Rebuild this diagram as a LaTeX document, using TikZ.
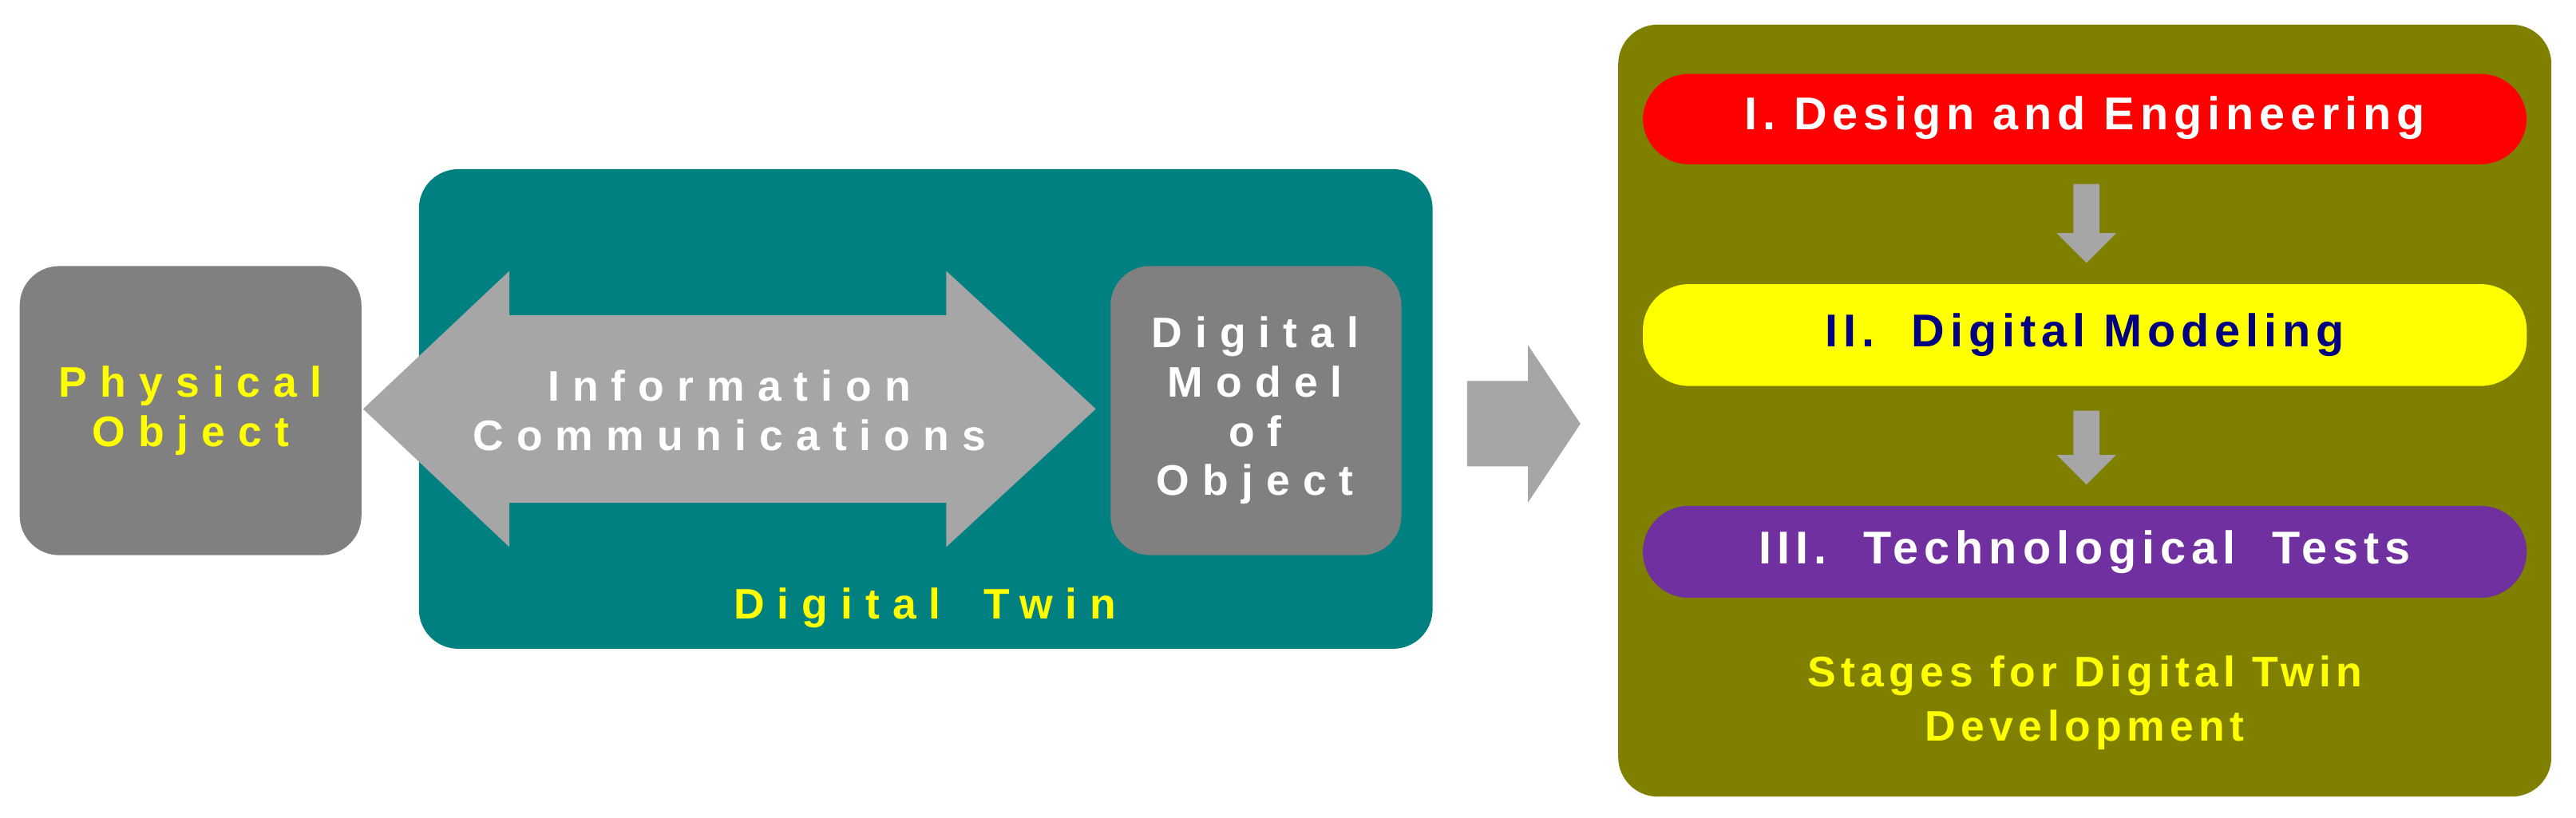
\documentclass[tikz,border=0pt]{standalone}
\usepackage{fontspec}
\setmainfont{Liberation Sans}[LetterSpace=12]
\newfontfamily\spaced{Liberation Sans}[LetterSpace=30]
\usetikzlibrary{shapes.arrows}
\definecolor{teal}{HTML}{008080}
\definecolor{olive}{HTML}{808000}
\definecolor{grayb}{HTML}{808080}
\definecolor{arr}{HTML}{A6A6A6}
\definecolor{yel}{HTML}{FFFF00}
\definecolor{purp}{HTML}{7030A0}
\definecolor{navy}{HTML}{000080}
\begin{document}
\begin{tikzpicture}[x=0.5pt,y=-0.5pt,
  box/.style={rounded corners=12pt},
  lab/.style={font=\bfseries\fontsize{13}{15}\selectfont\spaced,align=center},
  pill/.style={rounded corners=14pt,font=\bfseries\fontsize{14}{16}\selectfont}]
\useasboundingbox (0,0) rectangle (1568,498);
\fill[teal,box] (255,103) rectangle (872,395);
\node[lab,text=yel] (dt) at (563,370) {Digital\quad Twin};
\fill[grayb,box] (12,162) rectangle (220,338);
\node[lab,text=yel] (po) at (116,250) {Physical\\Object};
\fill[grayb,box] (676,162) rectangle (853,338);
\node[lab,text=white] (dm) at (764,250) {Digital\\Model\\of\\Object};
\fill[arr] (221,249) -- (310,165) -- (310,192) -- (576,192) -- (576,165) -- (667,249)
  -- (576,333) -- (576,306) -- (310,306) -- (310,333) -- cycle;
\node[lab,text=white] (ic) at (444,250) {Information\\Communications};
\fill[arr] (893,232) -- (930,232) -- (930,210) -- (962,258) -- (930,306) -- (930,284) -- (893,284) -- cycle;
\fill[olive,box] (985,15) rectangle (1553,485);
\fill[red,pill] (1000,45) rectangle (1538,100);
\node[pill,text=white] (s1) at (1269,72) {I. Design and Engineering};
\fill[yel,pill] (1000,173) rectangle (1538,235);
\node[pill,text=navy] (s2) at (1269,204) {II.\ \ Digital Modeling};
\fill[purp,pill] (1000,308) rectangle (1538,364);
\node[pill,text=white] (s3) at (1269,336) {III.\ \ Technological\ \ Tests};
\foreach \a/\b in {112/160,250/295}{
\fill[arr] (1262,\a) -- (1278,\a) -- (1278,\b-18) -- (1288,\b-18) -- (1270,\b) -- (1252,\b-18) -- (1262,\b-18) -- cycle;}
\node[font=\bfseries\fontsize{13}{16.5}\selectfont,text=yel,align=center] (st) at (1269,428) {Stages for Digital Twin\\Development};
\end{tikzpicture}
\end{document}
